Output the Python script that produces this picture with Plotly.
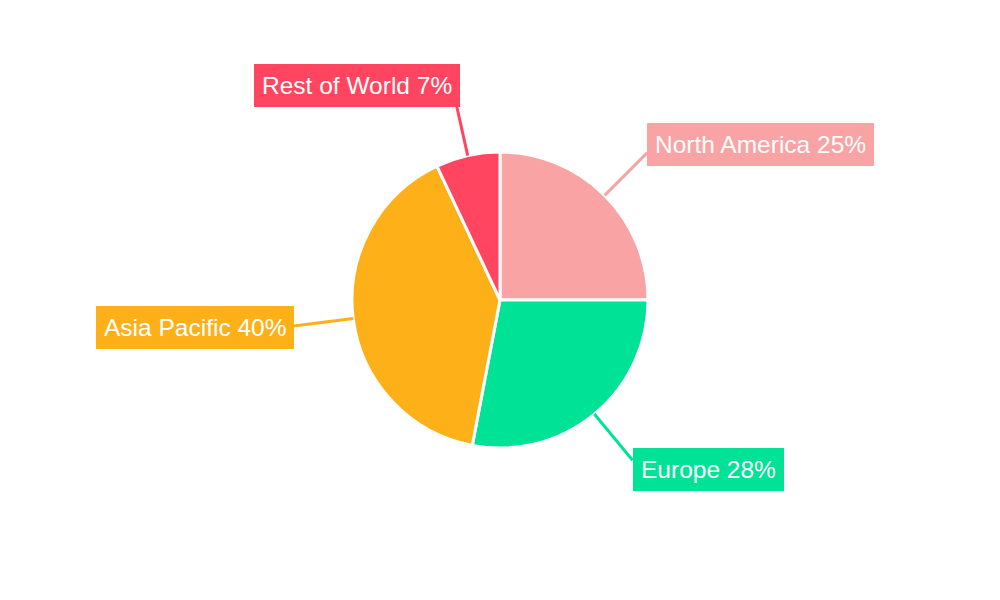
import math
import plotly.graph_objects as go

regions = ["North America", "Europe", "Asia Pacific", "Rest of World"]
shares = [25, 28, 40, 7]
colors = ["#F9A3A4", "#00E396", "#FEB019", "#FF4560"]

W, H = 1000, 600
CX, CY, R = 500, 300, 148   # pie centre / radius in pixels
SIDE_LEADER, TOP_LEADER = 60, 50  # leader line lengths in pixels

fig = go.Figure()
fig.add_trace(go.Pie(
    labels=regions, values=shares, sort=False, direction="clockwise",
    marker=dict(colors=colors, line=dict(color="white", width=3)),
    textinfo="none", showlegend=False,
    domain=dict(x=[(CX - R) / W, (CX + R) / W], y=[(H - CY - R) / H, (H - CY + R) / H]),
))

total = sum(shares)
cum = 0
shapes, annotations = [], []
for name, v, c in zip(regions, shares, colors):
    mid = (cum + v / 2) / total * 2 * math.pi
    cum += v
    s, co = math.sin(mid), math.cos(mid)
    vertical = abs(s) < 0.5
    L = TOP_LEADER if vertical else SIDE_LEADER
    x0, y0 = CX + R * s, CY - R * co
    x1, y1 = CX + (R + L) * s, CY - (R + L) * co
    shapes.append(dict(type="line", xref="paper", yref="paper",
                       x0=x0 / W, y0=1 - y0 / H, x1=x1 / W, y1=1 - y1 / H,
                       line=dict(color=c, width=3)))
    if vertical:
        xanchor = "right" if s < 0 else "left"
        yanchor = "bottom" if co > 0 else "top"
        xshift = 3 if s < 0 else -3
        yshift = 0
    else:
        xanchor = "left" if s > 0 else "right"
        yanchor = "middle"
        xshift = 0
        yshift = 12 * co
    pct = round(v / total * 100)
    annotations.append(dict(
        x=x1 / W, y=1 - y1 / H, xref="paper", yref="paper",
        text=f"{name} {pct}%", showarrow=False,
        xanchor=xanchor, yanchor=yanchor, xshift=xshift, yshift=yshift,
        bgcolor=c, borderpad=8, borderwidth=0,
        font=dict(family="Liberation Sans, Arial, sans-serif", size=24.5, color="white"),
    ))

fig.update_layout(
    width=W, height=H, margin=dict(l=0, r=0, t=0, b=0),
    paper_bgcolor="white", plot_bgcolor="white",
    shapes=shapes, annotations=annotations,
)
fig.write_html("out.html", config={"displayModeBar": False},
               post_script="document.body.style.margin='0';")
